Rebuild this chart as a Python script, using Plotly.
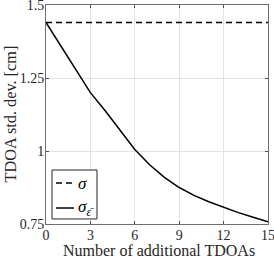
import plotly.graph_objects as go

n_add = list(range(16))
sigma = [1.44] * 16
sigma_eps = [1.44, 1.36, 1.28, 1.20, 1.138, 1.072, 1.005, 0.953, 0.910, 0.875,
             0.848, 0.826, 0.807, 0.789, 0.773, 0.758]
x_ticks = [0, 3, 6, 9, 12, 15]
y_ticks = [0.75, 1, 1.25, 1.5]
y_tick_text = ["0.75", "1", "1.25", "1.5"]
series_names = ["<i>σ</i>", "<i>σ</i><sub><i>ε̄</i></sub>"]
series_dash = ["6px,4px", "solid"]

font_family = "Liberation Serif, Times New Roman, serif"

fig = go.Figure()
fig.add_trace(go.Scatter(x=n_add, y=sigma, mode="lines", name=series_names[0], showlegend=False,
                         line=dict(color="black", width=1.5, dash=series_dash[0])))
fig.add_trace(go.Scatter(x=n_add, y=sigma_eps, mode="lines", name=series_names[1], showlegend=False,
                         line=dict(color="black", width=1.5, dash=series_dash[1])))

axis_common = dict(
    showline=True, linecolor="#6e6e6e", linewidth=1, mirror="allticks",
    ticks="inside", ticklen=3, tickcolor="#4d4d4d",
    showgrid=True, gridcolor="#e3e3e3", gridwidth=1,
    zeroline=False, automargin=False, ticklabeloverflow="allow",
    tickfont=dict(family=font_family, size=14, color="#262626"),
)

# legend box (drawn manually to match the compact MATLAB-style legend)
fig.add_shape(type="rect", xref="paper", yref="paper", x0=0.027, x1=0.2297, y0=0.023, y1=0.2466,
              line=dict(color="#262626", width=1), fillcolor="white", layer="above")
leg_y = [0.187, 0.073]
for name, dash, yy in zip(series_names, series_dash, leg_y):
    fig.add_shape(type="line", xref="paper", yref="paper", x0=0.045, x1=0.126, y0=yy, y1=yy,
                  line=dict(color="black", width=1.5, dash=dash), layer="above")
    fig.add_annotation(xref="paper", yref="paper", x=0.135, y=yy, text=name, showarrow=False,
                       xanchor="left", yanchor="middle",
                       font=dict(family=font_family, size=17, color="black"))

# axis titles
fig.add_annotation(xref="paper", yref="paper", x=0.51, y=0, yshift=-26.5, text="Number of additional TDOAs",
                   showarrow=False, xanchor="center", yanchor="middle",
                   font=dict(family=font_family, size=16, color="#262626"))
fig.add_annotation(xref="paper", yref="paper", x=0, y=0.5, xshift=-36, text="TDOA std. dev. [cm]",
                   showarrow=False, xanchor="center", yanchor="middle", textangle=-90,
                   font=dict(family=font_family, size=16.3, color="#262626"))

fig.update_layout(
    width=274, height=259,
    margin=dict(l=46, r=6, t=5, b=35),
    paper_bgcolor="white", plot_bgcolor="white",
    font=dict(family=font_family, size=14, color="#262626"),
    showlegend=False,
    xaxis=dict(range=[0, 15], tickvals=x_ticks, ticktext=[str(v) for v in x_ticks],
               ticklabelstandoff=-2, **axis_common),
    yaxis=dict(range=[0.75, 1.5], tickvals=y_ticks, ticktext=y_tick_text,
               ticklabelstandoff=-2, **axis_common),
)

fig.write_html("out.html", config={"displayModeBar": False},
               post_script="document.body.style.margin='0';")
